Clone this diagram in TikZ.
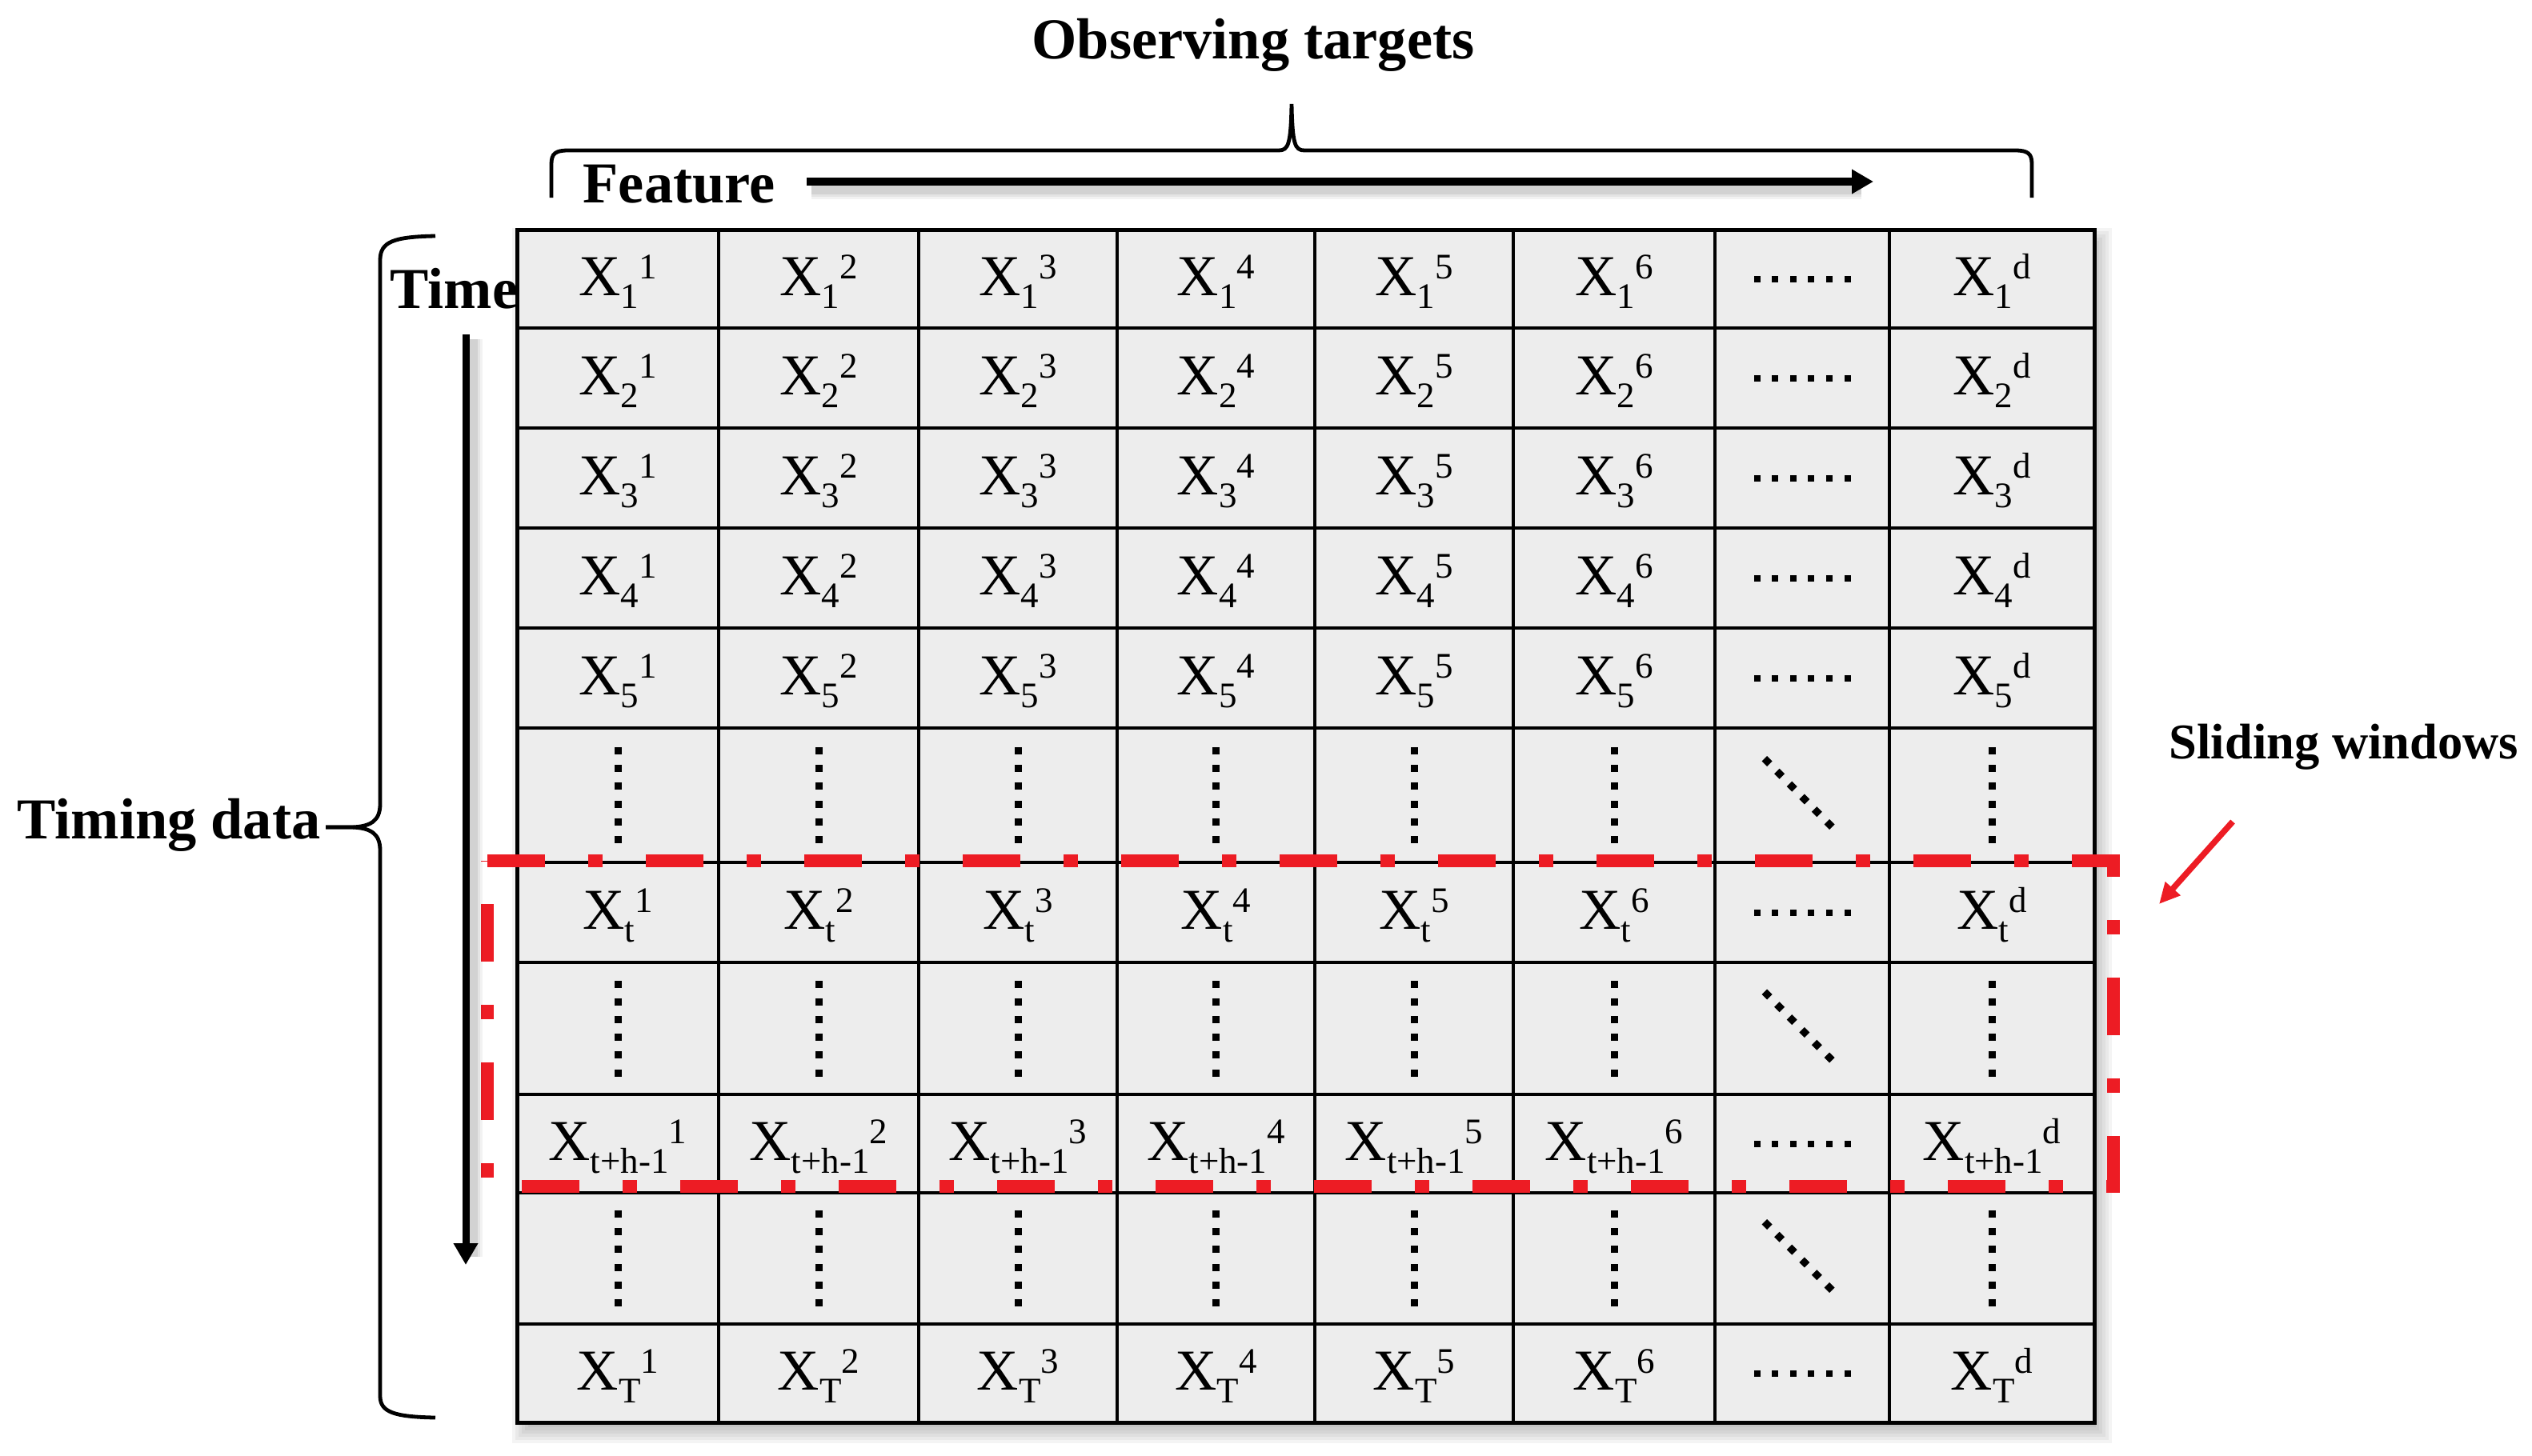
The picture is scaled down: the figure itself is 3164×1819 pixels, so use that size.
\documentclass[tikz,border=0pt]{standalone}
\usepackage{fontspec}
\setmainfont{Liberation Serif}
\usetikzlibrary{arrows.meta}
\definecolor{cellgray}{RGB}{237,237,237}
\definecolor{wred}{RGB}{237,28,36}
\newcommand\mainsz{\fontsize{20.6pt}{24pt}\selectfont}
\newcommand\smallsz{\fontsize{12.8pt}{14pt}\selectfont}
\newcommand\cellx[2]{X\raisebox{-1.6mm}{\smallsz #1}\raisebox{2.1mm}{\smallsz #2}}
\begin{document}
\begin{tikzpicture}[x=0.1mm,y=-0.1mm,
  cellbox/.style={draw=black, fill=cellgray, line width=0.35mm, inner sep=0pt, outer sep=0pt},
  celltext/.style={inner sep=0pt, anchor=base, font=\mainsz},
  lab/.style={inner sep=0pt, font=\mainsz\bfseries},
  bracepath/.style={draw=black, line width=0.48mm},
  bigarrow/.style={draw=black, line width=1mm, -{Triangle[length=2.7mm,width=2.9mm]}},
  dotsq/.style={fill=black},
  slidebox/.style={draw=wred, line width=1.65mm, dash pattern=on 7.2mm off 5.4mm on 1.8mm off 5.4mm, line join=miter},
]
\useasboundingbox (0,0) rectangle (3164,1819);

% soft shadow of the table
\foreach \k in {0,...,7}
  \fill[black,opacity=0.045] ({668-4*\k},{313-4*\k}) rectangle ({2611+4*\k},{1776+4*\k});

% cells
\foreach \r/\ya/\yb/\kind/\sub in {1/287/410/v/1, 2/410/535/v/2, 3/535/660/v/3, 4/660/785/v/4, 5/785/910/v/5, 6/910/1078/d/x, 7/1078/1203/v/t, 8/1203/1368/d/x, 9/1368/1491/v/t+h-1, 10/1491/1655/d/x, 11/1655/1778/v/T}{
  \foreach \c/\xa/\xb/\sup in {1/646/898/1, 2/898/1148/2, 3/1148/1396/3, 4/1396/1643/4, 5/1643/1891/5, 6/1891/2143/6, 7/2143/2361/x, 8/2361/2617/d}{
    \pgfmathsetmacro\cx{(\xa+\xb)/2}
    \pgfmathsetmacro\cy{(\ya+\yb)/2}
    \pgfmathsetmacro\w{(\xb-\xa)*0.1}
    \pgfmathsetmacro\h{(\yb-\ya)*0.1}
    \node[cellbox, minimum width=\w mm, minimum height=\h mm] (c-\r-\c) at (\cx,\cy) {};
    \if\kind v
      \ifnum\c=7\relax
        \foreach \k in {0,...,5}
          \fill[dotsq] ({\cx-60.5+\k*22.6},{\cy-4}) rectangle ++(8,8);
      \else
        \node[celltext] (x-\r-\c) at (\cx,{\cy+21}) {\cellx{\sub}{\sup}};
      \fi
    \else
      \ifnum\c=7\relax
        \foreach \k in {0,...,5}
          \fill[dotsq] ({\cx-44+\k*15.6},{\cy-42.5+\k*15.8}) +(0,-6.5) -- +(6.5,0) -- +(0,6.5) -- +(-6.5,0) -- cycle;
      \else
        \foreach \k in {0,...,5}
          \fill[dotsq] ({\cx-4.5},{\cy-60+\k*22.2}) rectangle ++(9,9);
      \fi
    \fi
  }
}
% outer border
\draw[line width=0.5mm] (646,287) rectangle (2617,1778);

% sliding window frame
\draw[slidebox] (609,1076) -- (2641,1076) -- (2641,1483) -- (609,1483) -- cycle;

% labels
\node[lab, anchor=base] (obs) at (1566,73) {Observing targets};
\node[lab, anchor=base west] (feat) at (728,253) {Feature};
\node[lab, anchor=base west] (time) at (487,385) {Time};
\node[lab, anchor=base west] (timing) at (21,1048) {Timing data};
\node[lab, anchor=base west, font=\fontsize{17.8pt}{20pt}\selectfont\bfseries] (slide) at (2710,948) {Sliding windows};

% top brace
\draw[bracepath] (689,247) -- (689,205) .. controls (689,192) and (694,188) .. (710,188) -- (1598,188)
  .. controls (1610,188) and (1613,180) .. (1614,130)
  .. controls (1615,180) and (1618,188) .. (1630,188) -- (2518,188)
  .. controls (2534,188) and (2539,192) .. (2539,205) -- (2539,247);

% left brace
\draw[bracepath] (544,295) .. controls (492,296) and (475,302) .. (475,325) -- (475,1005)
  .. controls (475,1027) and (462,1033) .. (440,1034) -- (407,1034);
\draw[bracepath] (407,1034) -- (440,1034) .. controls (462,1035) and (475,1041) .. (475,1063) -- (475,1745)
  .. controls (475,1765) and (492,1771) .. (544,1772);

% arrows
\coordinate (fa1) at (1008,227);
\coordinate (fa2) at (2341,227);
\coordinate (ta1) at (582,418);
\coordinate (ta2) at (582,1581);
\foreach \lw/\op in {2.4/0.05, 1.8/0.06, 1.2/0.08}{
  \draw[line width=\lw mm, opacity=\op, black] ([shift={(6,10)}]fa1) -- ([shift={(-15,10)}]fa2);
  \draw[line width=\lw mm, opacity=\op, black] ([shift={(9,6)}]ta1) -- ([shift={(9,-10)}]ta2);
}
\draw[bigarrow] (fa1) -- (fa2);
\draw[bigarrow, line width=0.9mm] (ta1) -- (ta2);

\coordinate (sa1) at (2790,1027);
\coordinate (sa2) at (2698,1130);
\draw[wred, line width=0.75mm, -{Triangle[length=2.6mm,width=2.4mm]}] (sa1) -- (sa2);
\end{tikzpicture}
\end{document}
